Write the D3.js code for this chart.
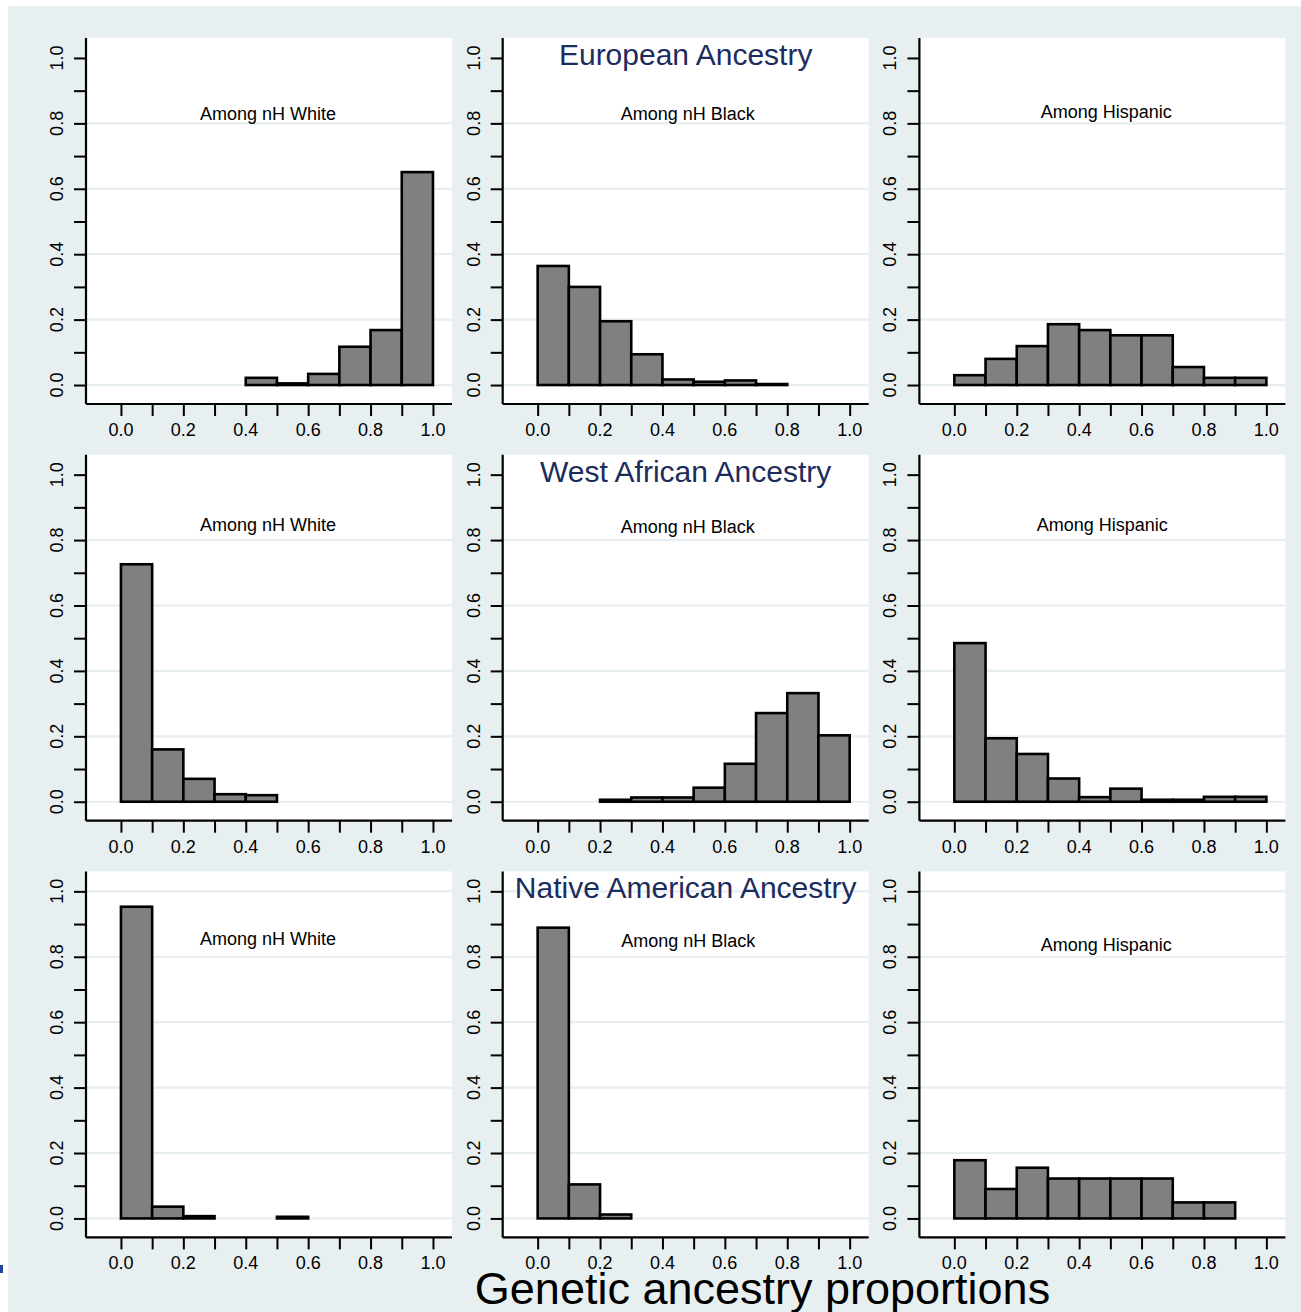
<!DOCTYPE html>
<html>
<head>
<meta charset="utf-8">
<script src="https://cdn.jsdelivr.net/npm/d3@7"></script>
<style>
  html, body { margin: 0; padding: 0; background: #ffffff; }
  svg { display: block; }
  text { font-family: "Liberation Sans", Arial, Helvetica, sans-serif; }
</style>
</head>
<body>
<svg id="chart" width="1301" height="1312"></svg>
<script>
// Histogram fractions of genetic ancestry proportions, bins of width 0.1
const binEdges = [0.0, 0.1, 0.2, 0.3, 0.4, 0.5, 0.6, 0.7, 0.8, 0.9, 1.0];

const ancestryTitles = ["European Ancestry", "West African Ancestry", "Native American Ancestry"];
const groupLabels = ["Among nH White", "Among nH Black", "Among Hispanic"];

// European ancestry
const euroWhite    = [null, null, null, null, 0.022, 0.005, 0.034, 0.117, 0.168, 0.651];
const euroBlack    = [0.364, 0.300, 0.195, 0.094, 0.017, 0.010, 0.014, 0.003, null, null];
const euroHispanic = [0.030, 0.080, 0.119, 0.186, 0.168, 0.152, 0.152, 0.055, 0.022, 0.022];

// West African ancestry
const waWhite      = [0.726, 0.160, 0.070, 0.023, 0.020, null, null, null, null, null];
const waBlack      = [null, null, 0.006, 0.013, 0.013, 0.043, 0.116, 0.271, 0.332, 0.203];
const waHispanic   = [0.485, 0.194, 0.146, 0.071, 0.014, 0.040, 0.006, 0.006, 0.015, 0.015];

// Native American ancestry
const naWhite      = [0.953, 0.036, 0.007, null, null, 0.005, null, null, null, null];
const naBlack      = [0.889, 0.104, 0.012, null, null, null, null, null, null, null];
const naHispanic   = [0.178, 0.090, 0.155, 0.122, 0.122, 0.122, 0.122, 0.049, 0.049, null];

const tickValues = [0.0, 0.1, 0.2, 0.3, 0.4, 0.5, 0.6, 0.7, 0.8, 0.9, 1.0];
const tickLabelValues = [0.0, 0.2, 0.4, 0.6, 0.8, 1.0];
const gridValues = [0.0, 0.2, 0.4, 0.6, 0.8];

const axisTitle = "Genetic ancestry proportions";

const panels = [
  [euroWhite, euroBlack, euroHispanic],
  [waWhite, waBlack, waHispanic],
  [naWhite, naBlack, naHispanic]
];

// placement of the group label inside each panel, in data units
const groupLabelPos = [
  [[0.471, 0.829], [0.481, 0.829], [0.487, 0.835]],
  [[0.471, 0.849], [0.481, 0.843], [0.474, 0.849]],
  [[0.471, 0.857], [0.483, 0.851], [0.487, 0.839]]
];

// ---- layout ----
const W = 1301, H = 1312;
const step = 416.7;
const plotLeft0 = 86, plotTop0 = 38, plotSize = 366;
const xDomain = [-0.112, 1.061];
const yDomain = [-0.058, 1.061];
const bgColor = "#e8eff1";
const gridColor = "#e6eef1";
const titleColor = "#1c2c5c";
const fmt = d3.format(".1f");

const svg = d3.select("#chart");

// graph region background
svg.append("rect")
  .attr("x", 8).attr("y", 6)
  .attr("width", W - 8).attr("height", H - 6)
  .attr("fill", bgColor);

panels.forEach((row, r) => {
  row.forEach((values, c) => {
    const left = plotLeft0 + c * step;
    const top = plotTop0 + r * step;
    const x = d3.scaleLinear().domain(xDomain).range([left, left + plotSize]);
    const y = d3.scaleLinear().domain(yDomain).range([top + plotSize, top]);

    const g = svg.append("g");

    // plot region
    g.append("rect")
      .attr("x", left).attr("y", top)
      .attr("width", plotSize).attr("height", plotSize)
      .attr("fill", "#ffffff");

    // horizontal grid lines
    const grid = r === 2 ? gridValues.concat([1.0]) : gridValues;
    g.selectAll("line.grid").data(grid).join("line")
      .attr("class", "grid")
      .attr("x1", left).attr("x2", left + plotSize)
      .attr("y1", d => y(d)).attr("y2", d => y(d))
      .attr("stroke", gridColor).attr("stroke-width", 2.2);

    // histogram bars
    const bars = values.map((v, i) => ({ x0: binEdges[i], x1: binEdges[i + 1], v }))
      .filter(d => d.v !== null);
    g.selectAll("rect.bar").data(bars).join("rect")
      .attr("class", "bar")
      .attr("x", d => x(d.x0))
      .attr("width", d => x(d.x1) - x(d.x0))
      .attr("y", d => y(d.v))
      .attr("height", d => y(0) - y(d.v))
      .attr("fill", "#808080")
      .attr("stroke", "#000000")
      .attr("stroke-width", 2.6)
      .attr("stroke-linejoin", "miter");

    // y axis
    const yAxis = d3.axisLeft(y).tickValues(tickValues).tickSize(12).tickFormat("");
    const ya = g.append("g").attr("transform", `translate(${left},0)`).call(yAxis);
    ya.select(".domain").remove();
    ya.selectAll(".tick line").attr("stroke", "#000").attr("stroke-width", 2);
    g.append("line")
      .attr("x1", left).attr("x2", left)
      .attr("y1", top).attr("y2", top + plotSize)
      .attr("stroke", "#000").attr("stroke-width", 2.2);
    g.selectAll("text.ylab").data(tickLabelValues).join("text")
      .attr("class", "ylab")
      .attr("transform", d => `translate(${left - 23},${y(d)}) rotate(-90)`)
      .attr("text-anchor", "middle")
      .attr("font-size", 18)
      .attr("fill", "#000")
      .text(d => fmt(d));

    // x axis
    const xAxis = d3.axisBottom(x).tickValues(tickValues).tickSize(12).tickFormat("");
    const xa = g.append("g").attr("transform", `translate(0,${top + plotSize})`).call(xAxis);
    xa.select(".domain").remove();
    xa.selectAll(".tick line").attr("stroke", "#000").attr("stroke-width", 2);
    g.append("line")
      .attr("x1", left).attr("x2", left + plotSize)
      .attr("y1", top + plotSize).attr("y2", top + plotSize)
      .attr("stroke", "#000").attr("stroke-width", 2.2);
    g.selectAll("text.xlab").data(tickLabelValues).join("text")
      .attr("class", "xlab")
      .attr("x", d => x(d))
      .attr("y", top + plotSize + 32)
      .attr("text-anchor", "middle")
      .attr("font-size", 18)
      .attr("fill", "#000")
      .text(d => fmt(d));

    // group label
    const [lx, ly] = groupLabelPos[r][c];
    g.append("text")
      .attr("x", x(lx))
      .attr("y", y(ly) + 6.5)
      .attr("text-anchor", "middle")
      .attr("font-size", 18)
      .attr("fill", "#000")
      .text(groupLabels[c]);

    // ancestry title over the middle column
    if (c === 1) {
      g.append("text")
        .attr("x", left + plotSize / 2)
        .attr("y", top + 27)
        .attr("text-anchor", "middle")
        .attr("font-size", 30)
        .attr("fill", titleColor)
        .text(ancestryTitles[r]);
    }
  });
});

// common x-axis title
svg.append("text")
  .attr("x", 762.5)
  .attr("y", 1304)
  .attr("text-anchor", "middle")
  .attr("font-size", 45)
  .attr("fill", "#000")
  .text(axisTitle);

// small blue edge marker at lower left
svg.append("rect")
  .attr("x", 0).attr("y", 1265)
  .attr("width", 3).attr("height", 8)
  .attr("fill", "#1f45a0");
</script>
</body>
</html>
